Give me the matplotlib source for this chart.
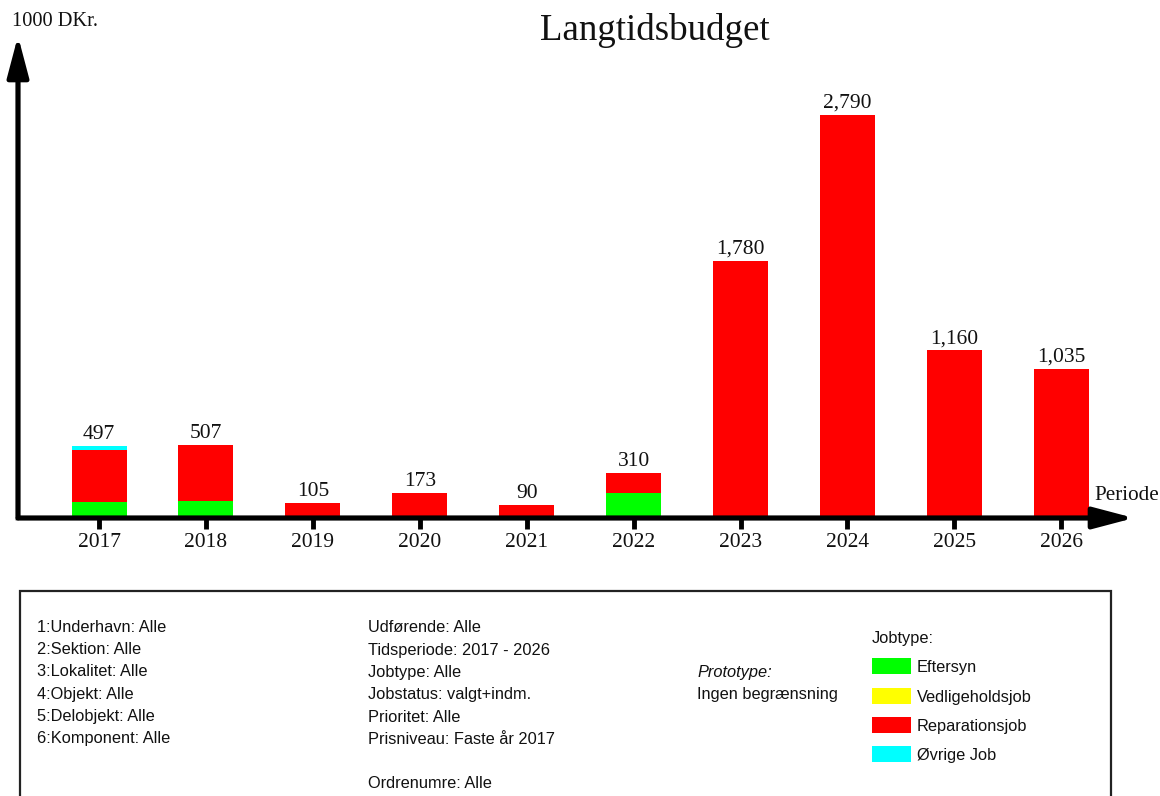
import matplotlib
matplotlib.use("Agg")
import matplotlib.pyplot as plt
from matplotlib.patches import Rectangle

# ---- data ----
years = ["2017", "2018", "2019", "2020", "2021", "2022", "2023", "2024", "2025", "2026"]
eftersyn = [114, 115, 0, 0, 0, 173, 0, 0, 0, 0]
vedligeholdsjob = [0, 0, 0, 0, 0, 0, 0, 0, 0, 0]
reparationsjob = [356, 392, 105, 173, 90, 137, 1780, 2790, 1160, 1035]
oevrige_job = [27, 0, 0, 0, 0, 0, 0, 0, 0, 0]
series_names = ["Eftersyn", "Vedligeholdsjob", "Reparationsjob", "Øvrige Job"]
series_colors = ["#00FF00", "#FFFF00", "#FF0000", "#00FFFF"]
info_col1 = ["1:Underhavn: Alle", "2:Sektion: Alle", "3:Lokalitet: Alle",
             "4:Objekt: Alle", "5:Delobjekt: Alle", "6:Komponent: Alle"]
info_col2 = ["Udførende: Alle", "Tidsperiode: 2017 - 2026", "Jobtype: Alle",
             "Jobstatus: valgt+indm.", "Prioritet: Alle", "Prisniveau: Faste år 2017"]

W, H = 1160, 796
SERIF = "Liberation Serif"
SANS = "Liberation Sans"
TXT = "#111111"

def fx(px):
    return px / W

def fy(py):
    return 1 - py / H

fig = plt.figure(figsize=(W / 100, H / 100), dpi=100)

# axes: left x=18px, right 1134px, bottom y=518px, top y=36px
ax = fig.add_axes([fx(18), fy(518), fx(1134) - fx(18), fy(36) - fy(518)])
ax.set_xlim(-0.758, 9.68)
ax.set_ylim(0, 2790 * (518 - 36) / (518 - 115))
for s in ax.spines.values():
    s.set_visible(False)
ax.patch.set_alpha(0)

x = list(range(len(years)))
series = [eftersyn, vedligeholdsjob, reparationsjob, oevrige_job]
bottom = [0] * len(years)
for vals, col in zip(series, series_colors):
    ax.bar(x, vals, width=0.515, bottom=bottom, color=col, edgecolor="none", zorder=2)
    bottom = [b + v for b, v in zip(bottom, vals)]

totals = bottom
for i, t in enumerate(totals):
    ax.annotate(f"{t:,}", (i, t), xytext=(0, 1.5), textcoords="offset points",
                ha="center", va="bottom", fontsize=15.5, family=SERIF, color=TXT)

ax.set_xticks(x)
ax.set_xticklabels(years, family=SERIF, fontsize=15.5, color=TXT)
ax.tick_params(axis="x", direction="out", length=8, width=3.5, pad=3, color="black")
ax.set_yticks([])

# axis lines (square corner) + arrowheads
ax.plot([0, 0, 0.97], [0.93, 0, 0], transform=ax.transAxes, color="black", lw=3.4,
        solid_joinstyle="miter", solid_capstyle="butt", clip_on=False, zorder=5, snap=False)
arrow = dict(arrowstyle="-|>,head_length=1.25,head_width=0.33", lw=3.4,
             color="black", shrinkA=0, shrinkB=0, mutation_scale=20)
ax.annotate("", xy=(1, 0), xytext=(0, 0), xycoords="axes fraction",
            arrowprops=arrow, zorder=5, annotation_clip=False)
ax.annotate("", xy=(0, 1), xytext=(0, 0), xycoords="axes fraction",
            arrowprops=arrow, zorder=5, annotation_clip=False)

fig.text(fx(12), fy(22), "1000 DKr.", family=SERIF, fontsize=14.7, ha="left", va="center", color=TXT)
fig.text(fx(1094), fy(496), "Periode", family=SERIF, fontsize=15.2, ha="left", va="center", color=TXT)
fig.text(fx(655), fy(31), "Langtidsbudget", family=SERIF, fontsize=26.6, ha="center", va="center", color=TXT)

# info box
fig.patches.append(Rectangle((fx(20), fy(830)), fx(1111) - fx(20), fy(591) - fy(830),
                             transform=fig.transFigure, fill=False, edgecolor="#222222", lw=1.6))

FS = 11.8
ys = [628, 650, 672, 694, 717, 739]
for t, yy in zip(info_col1, ys):
    fig.text(fx(37), fy(yy), t, family=SANS, fontsize=FS, ha="left", va="center", color=TXT)
for t, yy in zip(info_col2, ys):
    fig.text(fx(368), fy(yy), t, family=SANS, fontsize=FS, ha="left", va="center", color=TXT)
fig.text(fx(368), fy(783), "Ordrenumre: Alle", family=SANS, fontsize=FS, ha="left", va="center", color=TXT)
fig.text(fx(697), fy(672), "Prototype:", family=SANS, fontsize=FS, style="italic", ha="left", va="center", color=TXT)
fig.text(fx(697), fy(694), "Ingen begrænsning", family=SANS, fontsize=FS, ha="left", va="center", color=TXT)
fig.text(fx(872), fy(639), "Jobtype:", family=SANS, fontsize=FS, ha="left", va="center", color=TXT)

leg_y = [666, 696, 725, 754]
for name, col, yy in zip(series_names, series_colors, leg_y):
    fig.patches.append(Rectangle((fx(872), fy(yy + 8)), fx(911) - fx(872), fy(yy - 8) - fy(yy + 8),
                                 transform=fig.transFigure, facecolor=col, edgecolor="none"))
    fig.text(fx(917), fy(yy + 1.5), name, family=SANS, fontsize=FS, ha="left", va="center", color=TXT)

fig.savefig("out.png", dpi=100)
